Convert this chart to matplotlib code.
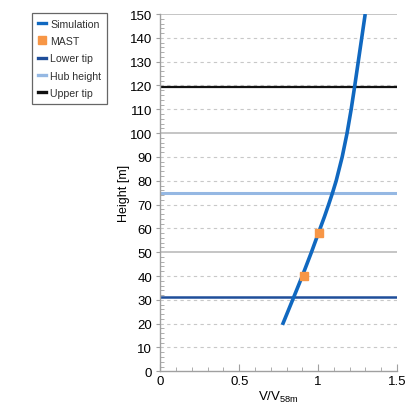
import matplotlib
matplotlib.use("Agg")
import matplotlib.pyplot as plt
from matplotlib.ticker import MultipleLocator
from matplotlib.lines import Line2D
from matplotlib.patches import Patch

plt.rcParams['font.family'] = ['Liberation Sans', 'DejaVu Sans']

sim_height = [19.5, 25, 31, 40, 50, 58, 65, 70, 75, 80, 90, 100, 110, 120, 130, 140, 150]
sim_ratio = [0.774, 0.808, 0.845, 0.900, 0.958, 1.002, 1.041, 1.067, 1.092, 1.115, 1.153, 1.184, 1.210, 1.233, 1.255, 1.277, 1.299]
mast_height = [40, 58]
mast_ratio = [0.913, 1.005]
lower_tip = 31
hub_height = 75
upper_tip = 119.5

fig = plt.figure(figsize=(4.05, 4.06), dpi=100)
ax = fig.add_axes([0.396, 0.083, 0.584, 0.880])

# grid
for h in range(10, 151, 10):
    if h % 50 == 0:
        ax.axhline(h, color='#C0C0C0', lw=1.3, zorder=1)
    else:
        ax.axhline(h, color='#C8C8C8', lw=0.8, ls=(0, (3, 3)), zorder=1)

ax.axhline(lower_tip, color='#1F4E9A', lw=1.8, zorder=2)
ax.axhline(hub_height, color='#95B8E3', lw=2.2, zorder=2)
ax.axhline(upper_tip, color='#111111', lw=1.6, zorder=2)

ax.plot(sim_ratio, sim_height, color='#1068C0', lw=2.6, zorder=3,
        solid_capstyle='butt', solid_joinstyle='round')
ax.plot(mast_ratio, mast_height, 's', color='#F79646', ms=6, mec='#F79646', zorder=4)

ax.set_xlim(0, 1.5)
ax.set_ylim(0, 150)
ax.xaxis.set_major_locator(MultipleLocator(0.5))
ax.xaxis.set_minor_locator(MultipleLocator(0.1))
ax.yaxis.set_major_locator(MultipleLocator(10))
ax.yaxis.set_minor_locator(MultipleLocator(2))
ax.set_xticks([0, 0.5, 1, 1.5])
ax.set_xticklabels(['0', '0.5', '1', '1.5'])
ax.tick_params(which='major', direction='out', length=3, color='#A0A0A0', labelsize=9.5, pad=3)
ax.tick_params(which='minor', direction='in', length=3, color='#A0A0A0')
ax.tick_params(axis='x', which='major', direction='in', length=5)

for s in ['top', 'right']:
    ax.spines[s].set_visible(False)
for s in ['left', 'bottom']:
    ax.spines[s].set_color('#A0A0A0')
    ax.spines[s].set_linewidth(1.0)

ax.set_ylabel('Height [m]', fontsize=9, labelpad=0)
ax.set_xlabel('V/V$_{\\mathregular{58m}}$', fontsize=9.5, labelpad=1)

handles = [
    Line2D([], [], color='#1068C0', lw=2.4),
    Patch(facecolor='#F79646', edgecolor='#F79646'),
    Line2D([], [], color='#1F4E9A', lw=2.4),
    Line2D([], [], color='#95B8E3', lw=2.4),
    Line2D([], [], color='#111111', lw=2.4),
]
labels = ['Simulation', 'MAST', 'Lower tip', 'Hub height', 'Upper tip']
leg = fig.legend(handles, labels, loc='upper left', bbox_to_anchor=(0.079, 0.966),
                 fontsize=7.6, frameon=True, fancybox=False, handlelength=0.8,
                 handletextpad=0.4, borderpad=0.55, labelspacing=0.7, handleheight=0.8,
                 borderaxespad=0, labelcolor='#303030')
leg.get_frame().set_edgecolor('#404040')
leg.get_frame().set_linewidth(0.9)

fig.savefig('out.png', dpi=100)
